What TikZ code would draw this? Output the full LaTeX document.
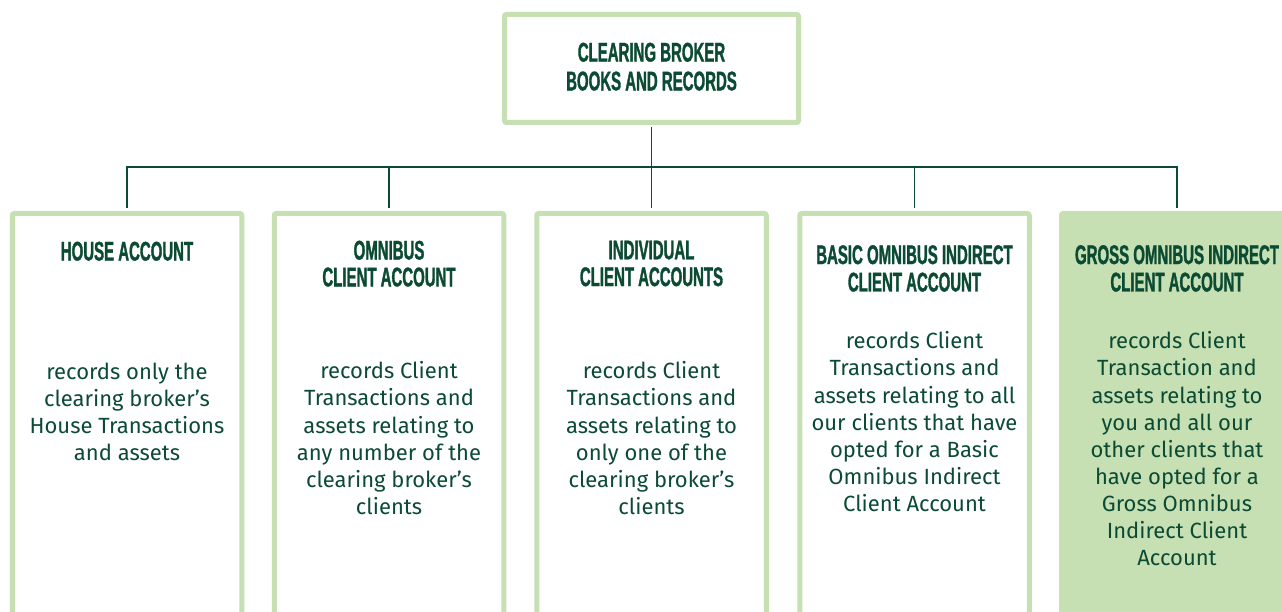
\documentclass[tikz,border=0pt]{standalone}
\usepackage{fontspec}
\setmainfont{Fira Sans}
\newfontfamily\headfont[FakeStretch=0.555,FakeBold=1.2]{Liberation Sans}
\usepackage{xcolor}
\usepackage{tikz}
\definecolor{dgreen}{HTML}{0B4A33}
\definecolor{lgreen}{HTML}{C6DFB3}

\begin{document}
\begin{tikzpicture}[x=1pt, y=-1pt,
    acct/.style={draw=lgreen, line width=5pt, rounded corners=2pt, minimum width=229.5pt,
        minimum height=440pt, anchor=north, inner sep=0pt},
    grossacct/.style={acct, fill=lgreen, minimum width=231pt},
    head/.style={text=dgreen, font=\headfont\bfseries\fontsize{27}{26.8}\selectfont,
        align=center, anchor=north, inner sep=0pt},
    body/.style={text=dgreen, font=\fontsize{22}{27.1}\selectfont, align=center,
        anchor=north, inner sep=0pt},
    link/.style={draw=dgreen, line width=1.5pt}]
            \useasboundingbox (0,0) rectangle (1282,612);
            % books and records
            \node[draw=lgreen, line width=5pt, rounded corners=2pt, minimum width=294pt,
                minimum height=108pt, inner sep=0pt] (cbr) at (651.5,68.5) {};
            \node[head, font=\headfont\bfseries\fontsize{27}{28.8}\selectfont] (cbrT)
                at (651.5,42.5) {CLEARING BROKER\\BOOKS AND RECORDS};
            % accounts
            \node[acct] (house) at (127,211) {};
            \node[acct] (omni) at (389,211) {};
            \node[acct] (indiv) at (651.5,211) {};
            \node[acct] (basic) at (914.5,211) {};
            \node[grossacct] (gross) at (1177,211) {};
            % links
            \coordinate (bus) at (651.5,167);
            \draw[link, shorten <=2.5pt] (cbr.south) -- (bus);
            \foreach \b in {house,omni,indiv,basic,gross}
                \draw[link, shorten >=2.5pt] (bus) -| (\b.north);
            % titles
            \node[head] (houseT) at (127,241.5) {HOUSE ACCOUNT};
            \node[head] (omniT) at (389,240.5) {OMNIBUS\\CLIENT ACCOUNT};
            \node[head] (indivT) at (651.5,240.5) {INDIVIDUAL\\CLIENT ACCOUNTS};
            \node[head, font=\headfont\bfseries\fontsize{27}{27.4}\selectfont] (basicT)
                at (914.5,245) {BASIC OMNIBUS INDIRECT\\CLIENT ACCOUNT};
            \node[head, font=\headfont\bfseries\fontsize{27}{27.4}\selectfont] (grossT)
                at (1177,245) {GROSS OMNIBUS INDIRECT\\CLIENT ACCOUNT};
            % texts
            \node[body] (houseB) at (127,362.5) {records only the\\clearing broker’s\\House Transactions\\and assets};
            \node[body] (omniB) at (389,361.5) {records Client\\Transactions and\\assets relating to\\any number of the\\clearing broker’s\\clients};
            \node[body] (indivB) at (651.5,361.5) {records Client\\Transactions and\\assets relating to\\only one of the\\clearing broker’s\\clients};
            \node[body] (basicB) at (914.5,331.5) {records Client\\Transactions and\\assets relating to all\\our clients that have\\opted for a Basic\\Omnibus Indirect\\Client Account};
            \node[body] (grossB) at (1177,331.5) {records Client\\Transaction and\\assets relating to\\you and all our\\other clients that\\have opted for a\\Gross Omnibus\\Indirect Client\\Account};
        \end{tikzpicture}
\end{document}
